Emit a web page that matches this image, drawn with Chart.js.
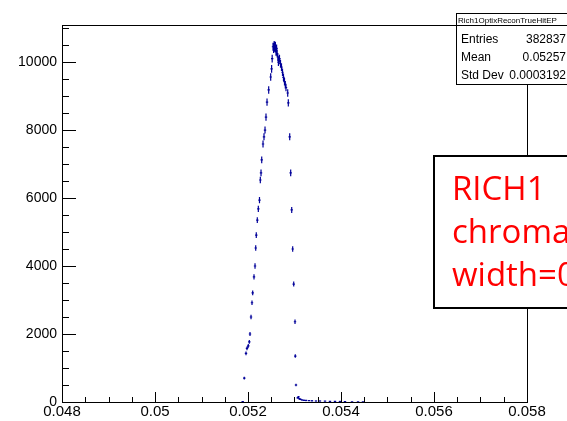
<!DOCTYPE html>
<html>
<head>
<meta charset="utf-8">
<script src="https://cdn.jsdelivr.net/npm/chart.js@4.4.1/dist/chart.umd.min.js"></script>
<style>
	html, body { margin: 0; padding: 0; background: #fff; }
	#wrap { width: 567px; height: 421px; position: relative; }
</style>
</head>
<body>
<div id="wrap"><canvas id="myChart" width="567" height="421"></canvas></div>
<script>
// bin centres (photon energy) and entries per bin
const binCentres = [
	0.051886, 0.051920, 0.051957, 0.051978, 0.052006, 0.052028, 0.052043, 0.052065, 0.052086, 0.052101,
	0.052129, 0.052151, 0.052166, 0.052178, 0.052200, 0.052222, 0.052247, 0.052265, 0.052280, 0.052295,
	0.052323, 0.052344, 0.052366, 0.052387, 0.052409, 0.052445, 0.052488, 0.052508, 0.052520, 0.052538,
	0.052551, 0.052563, 0.052576, 0.052589, 0.052602, 0.052615, 0.052628, 0.052641, 0.052654, 0.052667,
	0.052677, 0.052699, 0.052720, 0.052742, 0.052763, 0.052785, 0.052802, 0.052817, 0.052854, 0.052867,
	0.052897, 0.052918, 0.052940, 0.052961, 0.052983, 0.053011, 0.053017, 0.053032, 0.053069, 0.053086,
	0.053108, 0.053129, 0.053161, 0.053204, 0.053247, 0.053312, 0.053376, 0.053462, 0.053548, 0.053656,
	0.053763, 0.053871, 0.053978, 0.054086, 0.054237, 0.054366, 0.054473
];
const counts = [
	10, 700, 1430, 1580, 1650, 1770, 2000, 2500, 2920, 3210,
	3680, 4000, 4530, 4910, 5350, 5680, 5940, 6530, 6740, 7120,
	7590, 7800, 8000, 8380, 8820, 9180, 9560, 9800, 10100, 10450,
	10380, 10500, 10420, 10480, 10300, 10400, 10250, 10150, 10000, 10050,
	10100, 9950, 9850, 9700, 9550, 9420, 9330, 9250, 9090, 8800,
	7800, 6740, 5650, 4500, 3470, 2360, 1350, 500, 120, 150,
	90, 80, 60, 50, 45, 40, 35, 30, 30, 25,
	20, 20, 15, 12, 8, 6, 5
];
const xTicks = [0.048, 0.05, 0.052, 0.054, 0.056, 0.058];
const yTicks = [0, 2000, 4000, 6000, 8000, 10000];
const histName = 'Rich1OptixReconTrueHitEP';
const statRows = [['Entries', '382837'], ['Mean', '0.05257'], ['Std Dev', '0.0003192']];
const noteLines = ['RICH1', 'chromatic', 'width=0.0003'];

const FONT = '"Liberation Sans", Arial, Helvetica, sans-serif';
const NOTE_FONT = '"Open Sans", "Liberation Sans", sans-serif';
const MARKER = '#000099';

// frame with inward ticks, ROOT style
const framePlugin = {
	id: 'frame',
	afterDatasetsDraw: (chart) => {
		const { ctx, chartArea: a, scales: { x, y } } = chart;
		ctx.save();
		ctx.strokeStyle = '#000';
		ctx.lineWidth = 1;
		ctx.strokeRect(Math.round(a.left) + 0.5, Math.round(a.top) + 0.5, Math.round(a.right - a.left), Math.round(a.bottom - a.top));
		ctx.beginPath();
		for (let v = 0; v <= y.max; v += 500) {
			const py = Math.round(y.getPixelForValue(v)) + 0.5;
			const len = v % 2000 === 0 ? 14 : 7;
			ctx.moveTo(a.left, py);
			ctx.lineTo(a.left + len, py);
		}
		for (let k = 0; k <= 20; k++) {
			const px = Math.round(x.getPixelForValue(0.048 + k * 0.0005)) + 0.5;
			const len = k % 4 === 0 ? 10 : 5;
			ctx.moveTo(px, a.bottom);
			ctx.lineTo(px, a.bottom - len);
		}
		ctx.stroke();
		ctx.restore();
	}
};

// vertical sqrt(N) error bars with a short bin-width stroke
const errorBarPlugin = {
	id: 'errorBars',
	afterDatasetsDraw: (chart) => {
		const { ctx, chartArea: a, scales: { x, y } } = chart;
		ctx.save();
		ctx.beginPath();
		ctx.rect(a.left, a.top, a.right - a.left, a.bottom - a.top);
		ctx.clip();
		ctx.strokeStyle = MARKER;
		ctx.lineWidth = 1.2;
		ctx.beginPath();
		binCentres.forEach((xv, i) => {
			const n = counts[i];
			const err = Math.sqrt(n);
			const px = x.getPixelForValue(xv);
			const py = y.getPixelForValue(n);
			ctx.moveTo(px, y.getPixelForValue(n + err) - 0.5);
			ctx.lineTo(px, y.getPixelForValue(Math.max(n - err, 0)) + 0.5);
			ctx.moveTo(px - 1.2, py);
			ctx.lineTo(px + 1.2, py);
		});
		ctx.stroke();
		ctx.restore();
	}
};

// statistics box and the annotation box
const boxesPlugin = {
	id: 'boxes',
	afterDraw: (chart) => {
		const { ctx } = chart;
		ctx.save();

		ctx.fillStyle = '#fff';
		ctx.fillRect(456, 13, 120, 72);
		ctx.strokeStyle = '#000';
		ctx.lineWidth = 1;
		ctx.strokeRect(456.5, 13.5, 120, 12);
		ctx.strokeRect(456.5, 25.5, 120, 59);
		ctx.fillStyle = '#000';
		ctx.font = '8px ' + FONT;
		ctx.textBaseline = 'alphabetic';
		ctx.textAlign = 'left';
		ctx.fillText(histName, 458, 22.5);
		ctx.font = '12px ' + FONT;
		statRows.forEach(([label, value], i) => {
			const by = 43 + i * 18;
			ctx.textAlign = 'left';
			ctx.fillText(label, 461, by);
			ctx.textAlign = 'right';
			ctx.fillText(value, 566, by);
		});

		ctx.fillStyle = '#fff';
		ctx.fillRect(433, 155, 150, 154);
		ctx.lineWidth = 2;
		ctx.strokeRect(434, 156, 150, 152);
		ctx.fillStyle = '#ff0000';
		ctx.font = '33px ' + NOTE_FONT;
		ctx.textAlign = 'left';
		noteLines.forEach((t, i) => ctx.fillText(t, 452, 200 + i * 43));

		ctx.restore();
	}
};

const tickLabel = (v) => String(parseFloat(Number(v).toFixed(4)));

const ctx = document.getElementById('myChart');
const myChart = new Chart(ctx, {
	type: 'scatter',
	data: {
		datasets: [{
			label: histName,
			data: binCentres.map((xv, i) => ({ x: xv, y: counts[i] })),
			pointRadius: 0,
			pointHoverRadius: 0,
			showLine: false
		}]
	},
	options: {
		responsive: false,
		animation: false,
		devicePixelRatio: 1,
		layout: { padding: { top: 25, right: 40, left: 0, bottom: 0 } },
		plugins: {
			legend: { display: false },
			tooltip: { enabled: false }
		},
		scales: {
			x: {
				type: 'linear',
				min: 0.048,
				max: 0.058,
				afterBuildTicks: (scale) => { scale.ticks = xTicks.map(v => ({ value: v })); },
				afterFit: (scale) => { scale.height = 19; },
				grid: { display: false, drawTicks: false },
				border: { display: false },
				ticks: {
					padding: 1,
					maxRotation: 0,
					autoSkip: false,
					color: '#000',
					font: { family: FONT, size: 15 },
					callback: tickLabel
				}
			},
			y: {
				type: 'linear',
				min: 0,
				max: 11090,
				afterBuildTicks: (scale) => { scale.ticks = yTicks.map(v => ({ value: v })); },
				afterFit: (scale) => { scale.width = 62; },
				grid: { display: false, drawTicks: false },
				border: { display: false },
				ticks: {
					padding: 5,
					autoSkip: false,
					color: '#000',
					font: { family: FONT, size: 14 },
					callback: tickLabel
				}
			}
		}
	},
	plugins: [errorBarPlugin, framePlugin, boxesPlugin]
});
</script>
</body>
</html>
